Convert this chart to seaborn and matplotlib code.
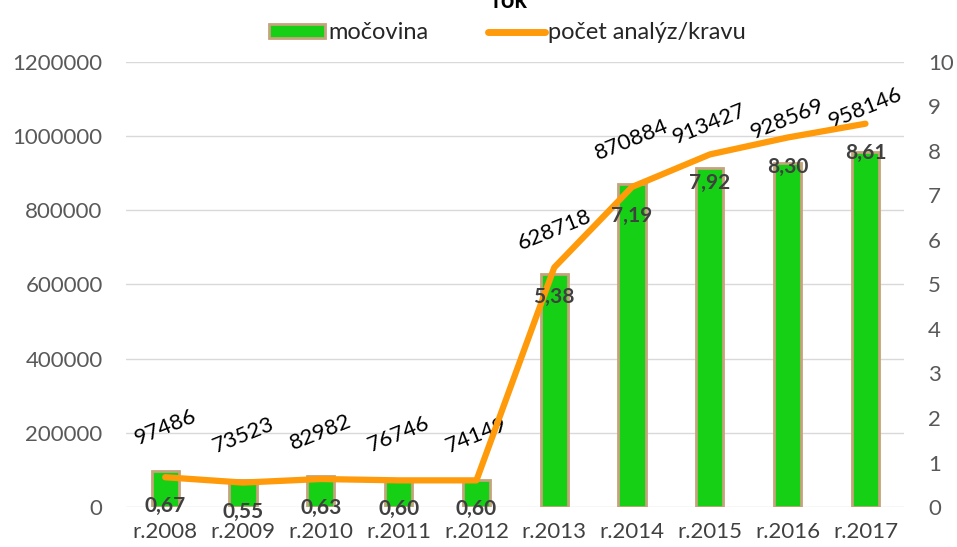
import numpy as np
import pandas as pd
import matplotlib
matplotlib.use("Agg")
import matplotlib.pyplot as plt
import seaborn as sns
from matplotlib.patches import Patch
from matplotlib.lines import Line2D
from matplotlib.ticker import StrMethodFormatter

roky = ["r.2008", "r.2009", "r.2010", "r.2011", "r.2012",
        "r.2013", "r.2014", "r.2015", "r.2016", "r.2017"]
mocovina = [97486, 73523, 82982, 76746, 74149,
            628718, 870884, 913427, 928569, 958146]
analyzy = [0.67, 0.55, 0.63, 0.60, 0.60, 5.38, 7.19, 7.92, 8.30, 8.61]

df = pd.DataFrame({"rok": roky, "mocovina": mocovina, "analyzy": analyzy})

sns.set_style("white")
plt.rcParams["font.family"] = ["Lato", "DejaVu Sans"]

green = "#16d016"
edge = "#c4a47a"
orange = "#ff9a0a"

fig = plt.figure(figsize=(9.57, 5.47), dpi=100)
ax = fig.add_axes([0.132, 0.073, 0.813, 0.814])

sns.barplot(data=df, x="rok", y="mocovina", ax=ax, color=green, width=0.35,
            saturation=1, edgecolor=edge, linewidth=2)
ax.set_ylim(0, 1200000)
ax.set_yticks(np.arange(0, 1200001, 200000))
ax.yaxis.set_major_formatter(StrMethodFormatter("{x:.0f}"))
ax.yaxis.grid(True, color="#d9d9d9", linewidth=1)
ax.set_axisbelow(True)
ax.set_xlabel("")
ax.set_ylabel("")
for s in ax.spines.values():
    s.set_visible(False)
ax.tick_params(axis="y", labelsize=16, colors="#595959", length=0, pad=17)
ax.tick_params(axis="x", labelsize=16, colors="#404040", length=0, pad=11)

# bar value labels, rotated
for i, v in enumerate(df["mocovina"]):
    ax.annotate(str(v), (i, v), xytext=(0, 44), textcoords="offset pixels",
                ha="center", va="center", rotation=22, fontsize=16, color="black")

ax2 = ax.twinx()
sns.pointplot(data=df, x="rok", y="analyzy", ax=ax2, color=orange, markers="",
              linewidth=4.5, errorbar=None)
ax2.set_ylim(0, 10)
ax2.set_yticks(range(0, 11))
ax2.set_ylabel("")
for s in ax2.spines.values():
    s.set_visible(False)
ax2.tick_params(axis="y", labelsize=16, colors="#595959", length=0, pad=17)
ax2.set_xlim(-0.5, len(roky) - 0.5)

for i, v in enumerate(df["analyzy"]):
    ax2.annotate(f"{v:.2f}".replace(".", ","), (i, v), xytext=(0, -29),
                 textcoords="offset pixels", ha="center", va="center",
                 fontsize=15, fontweight="bold", color="#404040")

handles = [Patch(facecolor=green, edgecolor=edge, linewidth=2),
           Line2D([], [], color=orange, linewidth=5)]
fig.legend(handles, ["močovina", "počet analýz/kravu"], loc="center",
           bbox_to_anchor=(0.53, 0.94), ncol=2, frameon=False, fontsize=17,
           handlelength=2.4, handleheight=0.5, handletextpad=0.15,
           columnspacing=2.5)

fig.text(0.533, 1.0, "rok", ha="center", va="center", fontsize=17,
         fontweight="bold", color="black")

fig.savefig("out.png", dpi=100)
